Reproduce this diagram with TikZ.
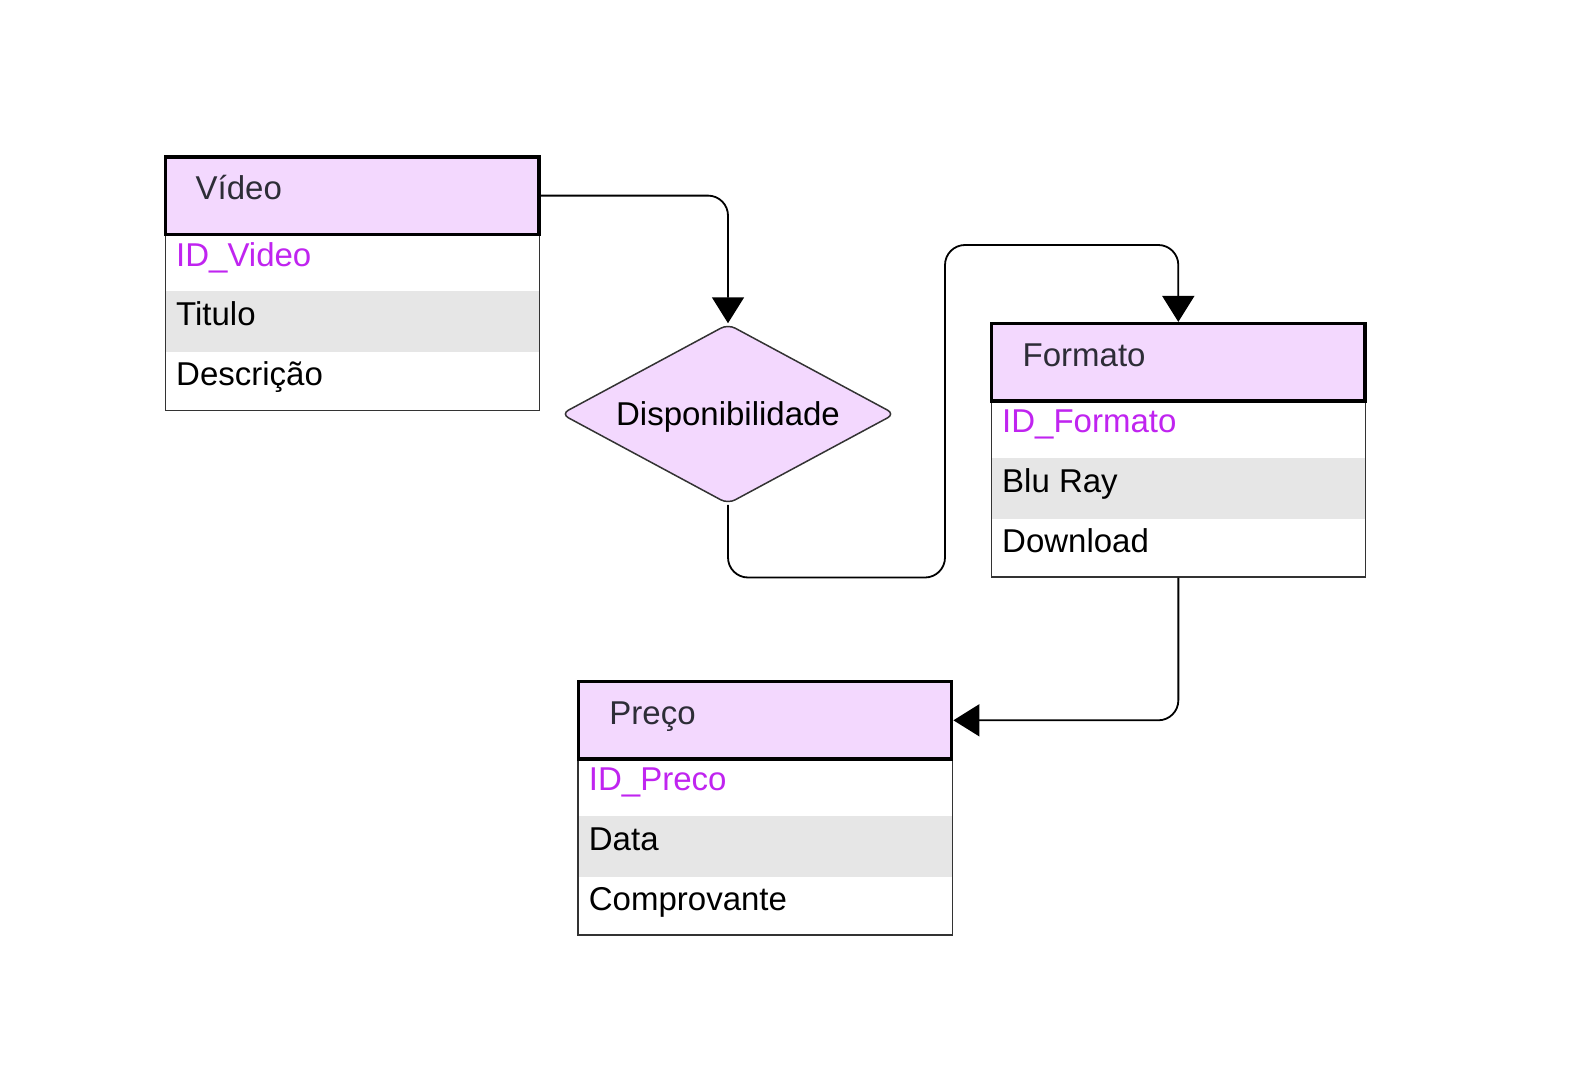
\documentclass[tikz,border=0pt]{standalone}
\usepackage{fontspec}
\setmainfont{Liberation Sans}
\usetikzlibrary{arrows.meta,shapes.geometric}
\definecolor{headfill}{RGB}{243,216,254}
\definecolor{rowgray}{RGB}{230,230,230}
\definecolor{idpurple}{RGB}{192,36,240}
\definecolor{titlecol}{RGB}{45,45,55}
\definecolor{edgecol}{RGB}{51,51,51}
\begin{document}
\begin{tikzpicture}[x=1pt,y=-1pt,font=\fontsize{33}{40}\selectfont,
  headbox/.style={draw=black,line width=3.5pt,fill=headfill,minimum width=373.3pt,minimum height=77.3pt,inner sep=0pt},
  bodybox/.style={draw=edgecol,fill=white,line width=1.3pt,minimum width=374.3pt,minimum height=176pt,inner sep=0pt},
  grayrow/.style={fill=rowgray,minimum width=373pt,minimum height=61.2pt,inner sep=0pt},
  titletext/.style={anchor=base west,inner sep=0pt,text=titlecol},
  idtext/.style={anchor=base west,inner sep=0pt,text=idpurple},
  rowtext/.style={anchor=base west,inner sep=0pt,text=black},
  link/.style={draw=black,line width=1.8pt,rounded corners=20pt},
  tipend/.style={-{Triangle[width=32pt,length=26pt]}}
]
\useasboundingbox (0,0) rectangle (1596,1089);

% Video
\begin{scope}[shift={(164,155.3)}]
  \node[bodybox] (vbody) at (188.35,167) {};
  \node[grayrow] (vgray) at (188.35,166.1) {};
  \node[headbox] (vhead) at (188.3,40.3) {};
  \node[titletext] (vtitle) at (31.5,44.7) {Vídeo};
  \node[idtext] (vid) at (12,110.7) {ID\_Video};
  \node[rowtext] (vr2) at (12,170.3) {Titulo};
  \node[rowtext] (vr3) at (12,230) {Descrição};
\end{scope}

% Formato
\begin{scope}[shift={(990,322)}]
  \node[bodybox] (fbody) at (188.35,167) {};
  \node[grayrow] (fgray) at (188.35,166.1) {};
  \node[headbox] (fhead) at (188.3,40.3) {};
  \node[titletext] (ftitle) at (32.5,44.7) {Formato};
  \node[idtext] (fid) at (12,110.7) {ID\_Formato};
  \node[rowtext] (fr2) at (12,170.3) {Blu Ray};
  \node[rowtext] (fr3) at (12,230) {Download};
\end{scope}

% Preco
\begin{scope}[shift={(576.7,680)}]
  \node[bodybox] (pbody) at (188.35,167) {};
  \node[grayrow] (pgray) at (188.35,166.1) {};
  \node[headbox] (phead) at (188.3,40.3) {};
  \node[titletext] (ptitle) at (32.5,44.7) {Preço};
  \node[idtext] (pid) at (12,110.7) {ID\_Preco};
  \node[rowtext] (pr2) at (12,170.3) {Data};
  \node[rowtext] (pr3) at (12,230) {Comprovante};
\end{scope}

% Diamond
\node[diamond,draw=edgecol,line width=1.5pt,fill=headfill,minimum width=334pt,minimum height=180pt,
  inner sep=0pt,aspect=1.86,rounded corners=8pt,text depth=0pt] (dia) at (728,414) {Disponibilidade};

% Connectors
\coordinate (d1) at (945,577.5);
\coordinate (d2) at (945,245);
\draw[link,tipend] (vhead.east) -| (dia.north);
\draw[link,tipend] (dia.south) |- (d1) -- (d2) -| (fhead.north);
\draw[link,tipend] (fbody.south) |- (phead.east);
\end{tikzpicture}
\end{document}
